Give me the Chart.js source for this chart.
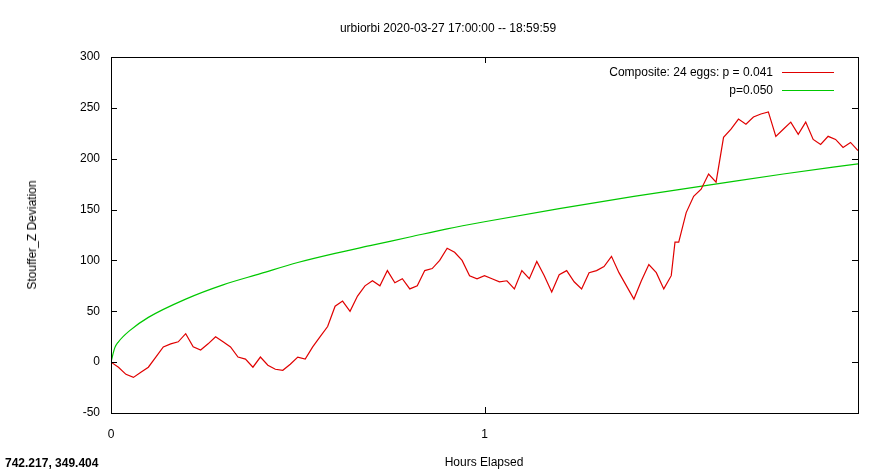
<!DOCTYPE html>
<html lang="en">
<head>
  <meta charset="UTF-8">
  <title>urbiorbi</title>
  <style>
    body { margin: 0; background: #fff; font-family: "Liberation Sans", Arial, sans-serif; font-size: 12px; }
    #wrap { position: relative; width: 896px; height: 472px; }
    .lbl { position: absolute; color: #000; white-space: nowrap; }
    .sample { display: inline-block; width: 52px; height: 0; border-top: 1px solid; vertical-align: middle; margin-left: 9px; }
  </style>
</head>
<body>
  <div id="wrap">
    <canvas id="graphic" width="896" height="472"></canvas>
    <div class="lbl" style="left:0;width:896px;text-align:center;top:21px;">urbiorbi 2020-03-27 17:00:00 -- 18:59:59</div>
    <div class="lbl" style="left:0;width:896px;text-align:center;top:455px;padding-left:72px;box-sizing:border-box;">Hours Elapsed</div>
    <div class="lbl" style="left:32px;top:235px;transform:translate(-50%,-50%) rotate(-90deg);">Stouffer_Z Deviation</div>
    <div class="lbl" style="left:5px;top:456px;font-weight:bold;">742.217, 349.404</div>
    <div class="lbl" style="right:62px;top:63px;text-align:right;line-height:18px;">
      Composite: 24 eggs: p = 0.041<span class="sample" style="border-color:#e00000"></span><br>
      p=0.050<span class="sample" style="border-color:#00c800"></span>
    </div>
  </div>

  <script src="https://cdn.jsdelivr.net/npm/chart.js"></script>
  <script>
    // hours elapsed and composite deviation
    const hours = [0, 0.02, 0.04, 0.06, 0.08, 0.10, 0.12, 0.14, 0.16, 0.18, 0.20, 0.22, 0.24, 0.26, 0.28, 0.30,
      0.32, 0.34, 0.36, 0.38, 0.40, 0.42, 0.44, 0.46, 0.48, 0.50, 0.52, 0.54, 0.56, 0.58, 0.60, 0.62, 0.64,
      0.66, 0.68, 0.70, 0.72, 0.74, 0.76, 0.78, 0.80, 0.82, 0.84, 0.86, 0.88, 0.90, 0.92, 0.94, 0.96, 0.98,
      1.00, 1.02, 1.04, 1.06, 1.08, 1.10, 1.12, 1.14, 1.16, 1.18, 1.20, 1.22, 1.24, 1.26, 1.28, 1.30, 1.32,
      1.34, 1.36, 1.38, 1.40, 1.42, 1.44, 1.46, 1.48, 1.50, 1.51, 1.52, 1.54, 1.56, 1.58, 1.60, 1.62, 1.64,
      1.66, 1.68, 1.70, 1.72, 1.74, 1.76, 1.78, 1.80, 1.82, 1.84, 1.86, 1.88, 1.90, 1.92, 1.94, 1.96, 1.98, 2.00];
    const composite = [0, -5, -12, -15, -10, -5, 5, 15, 18, 20, 28, 15, 12, 18, 25, 20,
      15, 5, 3, -5, 5, -3, -7, -8, -2, 5, 3, 15, 25, 35, 55, 60, 50,
      65, 75, 80, 75, 90, 78, 82, 72, 75, 90, 92, 100, 112, 108, 100, 85, 82,
      85, 82, 79, 80, 72, 90, 82, 99, 85, 69, 86, 90, 79, 72, 88, 90, 94,
      104, 88, 75, 62, 80, 96, 88, 72, 85, 118, 118, 147, 163, 170, 185, 177, 221,
      229, 239, 234, 241, 244, 246, 222, 229, 236, 224, 236, 219, 214, 222, 219, 211, 216, 208];

    // p=0.050 envelope
    const envHours = [0, 0.01, 0.02, 0.05, 0.1, 0.2, 0.3, 0.4, 0.5, 0.6, 0.7, 0.8, 0.9, 1.0, 1.2, 1.4, 1.6, 1.8, 2.0];
    const envelope = [0, 14, 20, 31, 44, 62, 76, 87, 98, 107, 115, 123, 131, 138, 151, 163, 174, 185, 195];

    const yTicks = [-50, 0, 50, 100, 150, 200, 250, 300];
    const xTicks = [0, 1];

    const frame = {
      id: 'frame',
      afterDraw(chart) {
        const { ctx, chartArea: a, scales } = chart;
        ctx.save();
        ctx.strokeStyle = '#000';
        ctx.lineWidth = 1;
        ctx.strokeRect(a.left + 0.5, a.top + 0.5, a.right - a.left, a.bottom - a.top);
        ctx.beginPath();
        yTicks.forEach(v => {
          const y = Math.round(scales.y.getPixelForValue(v)) + 0.5;
          ctx.moveTo(a.left, y); ctx.lineTo(a.left + 6, y);
          ctx.moveTo(a.right, y); ctx.lineTo(a.right - 6, y);
        });
        xTicks.forEach(v => {
          const x = Math.round(scales.x.getPixelForValue(v)) + 0.5;
          ctx.moveTo(x, a.bottom); ctx.lineTo(x, a.bottom - 6);
          ctx.moveTo(x, a.top); ctx.lineTo(x, a.top + 6);
        });
        ctx.stroke();
        ctx.restore();
      }
    };

    new Chart(document.getElementById('graphic'), {
      type: 'line',
      data: {
        datasets: [
          {
            label: 'Composite: 24 eggs: p = 0.041',
            data: hours.map((h, i) => ({ x: h, y: composite[i] })),
            borderColor: '#e00000',
            borderWidth: 1.2
          },
          {
            label: 'p=0.050',
            data: envHours.map((h, i) => ({ x: h, y: envelope[i] })),
            borderColor: '#00c800',
            borderWidth: 1.2,
            cubicInterpolationMode: 'monotone'
          }
        ]
      },
      options: {
        responsive: false,
        animation: false,
        events: [],
        elements: { point: { radius: 0 } },
        layout: { padding: { top: 57, right: 38, left: 0, bottom: 0 } },
        plugins: { legend: { display: false }, tooltip: { enabled: false } },
        scales: {
          x: {
            type: 'linear', min: 0, max: 2,
            afterBuildTicks: s => { s.ticks = xTicks.map(v => ({ value: v })); },
            afterFit: s => { s.height = 59; },
            grid: { display: false, drawTicks: false },
            border: { display: false },
            ticks: { color: '#000', padding: 14, font: { family: 'Liberation Sans', size: 12 } }
          },
          y: {
            min: -50, max: 300,
            afterBuildTicks: s => { s.ticks = yTicks.map(v => ({ value: v })); },
            afterFit: s => { s.width = 111; },
            grid: { display: false, drawTicks: false },
            border: { display: false },
            ticks: { color: '#000', padding: 11, font: { family: 'Liberation Sans', size: 12 } }
          }
        }
      },
      plugins: [frame]
    });
  </script>
</body>
</html>
